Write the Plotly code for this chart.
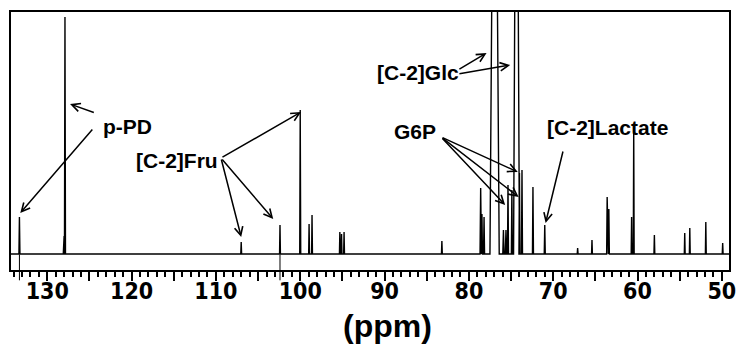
import plotly.graph_objects as go

# ---- data ----
peak_ppm = [133.3, 128.0, 127.9, 107.0, 102.4, 100.0, 98.95, 98.6, 95.3, 95.1, 94.8,
            83.2, 78.6, 78.45, 78.2, 76.95, 75.9, 75.6, 75.36, 74.9, 74.35, 74.0, 73.7,
            72.4, 71.0, 67.1, 65.4, 63.6, 63.4, 60.7, 60.45, 58.0, 54.4, 53.8, 51.9, 49.9]
peak_height = [37, 18, 237, 12, 29, 144, 30, 39, 22, 20, 22,
               13, 66, 40, 37, 400, 24, 24, 69, 64, 400, 81, 84,
               67, 29, 6, 14, 57, 45, 37, 126, 19, 21, 26, 32, 11]
peak_top_width = [0, 0, 0, 0, 0, 0, 0, 0, 0, 0, 0,
                  0, 0, 0, 0, 0.42, 0, 0, 0, 0, 0.25, 0, 0,
                  0, 0, 0, 0, 0, 0, 0, 0, 0, 0, 0, 0, 0]
peak_base_width = [0.12, 0.2, 0.12, 0.1, 0.1, 0.12, 0.1, 0.1, 0.1, 0.1, 0.1,
                   0.1, 0.15, 0.12, 0.12, 1.1, 0.15, 0.15, 0.12, 0.12, 0.7, 0.12, 0.12,
                   0.12, 0.12, 0.1, 0.1, 0.12, 0.12, 0.1, 0.1, 0.1, 0.1, 0.1, 0.1, 0.1]
x_range = [134.3, 49.15]
y_range = [-16, 242]
major_ticks = [135, 130, 125, 120, 115, 110, 105, 100, 95, 90, 85, 80, 75, 70, 65, 60, 55, 50]
tick_labels = ['', '130', '', '120', '', '110', '', '100', '', '90', '', '80', '', '70', '', '60', '', '50']
through_axis_ppm = [133.3, 102.4]   # vertical artefact lines crossing the axis

# ---- build the spectrum trace from the peak list ----
order = sorted(range(len(peak_ppm)), key=lambda i: -peak_ppm[i])
xs, ys = [x_range[0]], [0]
for i in order:
    p, h = peak_ppm[i], peak_height[i]
    tw, bw = peak_top_width[i], peak_base_width[i]
    xs += [p + bw / 2, p + tw / 2, p - tw / 2, p - bw / 2]
    ys += [0, h, h, 0]
xs.append(x_range[1])
ys.append(0)

fig = go.Figure()
fig.add_trace(go.Scatter(x=xs, y=ys, mode='lines',
                         line=dict(color='black', width=1.4), hoverinfo='skip'))

# ---- labels & arrows ----
lab_font = dict(family='Liberation Sans, Arial, sans-serif', size=21, color='black')
labels = [
    ('<b>p-PD</b>', 120.5, 128),
    ('<b>[C-2]Fru</b>', 114.6, 94),
    ('<b>[C-2]Glc</b>', 86.0, 182),
    ('<b>G6P</b>', 86.4, 123),
    ('<b>[C-2]Lactate</b>', 63.6, 127),
]
for t, x, y in labels:
    fig.add_annotation(x=x, y=y, text=t, showarrow=False, font=lab_font)

arrows = [  # (tail ppm, tail y, head ppm, head y)
    (124.3, 141, 127.3, 150),
    (124.5, 126, 133.2, 41),
    (109.4, 96, 99.9, 142),
    (109.4, 96, 107.0, 17),
    (109.4, 96, 103.2, 35),
    (81.3, 184, 77.9, 201),
    (81.3, 180, 75.1, 189),
    (83.3, 117, 74.2, 82),
    (83.3, 117, 74.1, 57),
    (83.3, 117, 75.7, 49),
    (68.8, 104, 70.9, 31),
]
for tx, ty, hx, hy in arrows:
    fig.add_annotation(x=hx, y=hy, ax=tx, ay=ty, axref='x', ayref='y',
                       text='', showarrow=True, arrowhead=5, arrowsize=1.1,
                       arrowwidth=1.5, arrowcolor='black', standoff=0)

for p in through_axis_ppm:
    fig.add_shape(type='line', xref='x', yref='paper', x0=p, x1=p, y0=0.06, y1=-0.04,
                  line=dict(color='black', width=1))

narrow = 'Liberation Sans Narrow, Arial Narrow, DejaVu Sans Condensed, sans-serif'
# axis title placed as an annotation for exact placement
fig.add_annotation(x=89.6, xref='x', y=-0.218, yref='paper', yanchor='middle',
                   text='<b>(ppm)</b>', showarrow=False,
                   font=dict(family='Liberation Sans, Arial, sans-serif', size=32, color='black'))

fig.update_xaxes(range=x_range, tickmode='array', tickvals=major_ticks,
                 ticktext=['<b>%s</b>' % t if t else '' for t in tick_labels],
                 ticks='outside', ticklen=9, tickwidth=2, tickcolor='black',
                 minor=dict(dtick=1, ticks='outside', ticklen=5, tickwidth=1.5, tickcolor='black'),
                 showline=True, linecolor='black', linewidth=2, mirror=True,
                 showgrid=False, zeroline=False, automargin=False,
                 tickfont=dict(family=narrow, size=23, color='black'),
                 ticklabelstandoff=-10)
fig.update_yaxes(range=y_range, showticklabels=False, ticks='', showgrid=False, automargin=False,
                 zeroline=False, showline=True, linecolor='black', linewidth=2, mirror=True)
# the page body has an 8px margin: figure is 8px smaller, left/top margins shifted
fig.update_layout(width=736, height=351, margin=dict(l=3, r=15, t=4, b=89),
                  plot_bgcolor='white', paper_bgcolor='white', showlegend=False)

fig.write_html('out.html')
